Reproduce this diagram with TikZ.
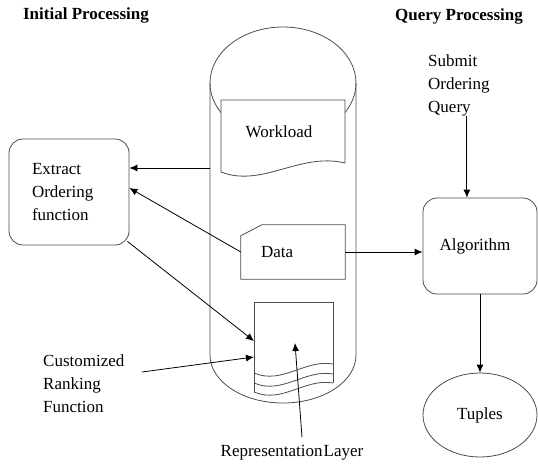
\documentclass[tikz,border=0pt]{standalone}
\usepackage{fontspec}
\setmainfont{Liberation Serif}
\usetikzlibrary{arrows.meta,shapes.geometric}

\tikzset{
  shape line/.style={draw=black!70, line width=0.8pt},
  link/.style={draw=black, line width=0.8pt, -{Latex[length=8pt,width=7pt]}},
  label text/.style={font=\fontsize{17}{23}\selectfont, align=left, inner sep=0pt},
  title text/.style={font=\fontsize{17}{23}\selectfont\bfseries, inner sep=0pt},
  proc box/.style={shape line, rounded corners=14pt, font=\fontsize{17}{23}\selectfont, align=left},
}

\begin{document}
\begin{tikzpicture}[x=1pt,y=-1pt]
  \useasboundingbox (0,0) rectangle (538,466);

  % headings
  \node[title text] (initial) at (86,15) {Initial Processing};
  \node[title text] (query) at (459,16) {Query Processing};

  % the store (cylinder)
  \draw[shape line] (210,83) -- (210,355) arc[start angle=180, end angle=360, x radius=73pt, y radius=48pt] -- (356,83);
  \draw[shape line] (283,83) ellipse[x radius=73pt, y radius=56pt];
  \coordinate (cylside) at (210,168);

  % workload document
  \draw[shape line, fill=white] (221,100) -- (345,100) -- (345,163)
    .. controls (300,152) and (262,188) .. (221,172) -- cycle;
  \node[label text] (workload) at (279,132) {Workload};

  % data card
  \node[label text, minimum height=54pt, text width=64pt, inner xsep=20pt] (data) at (293,252) {Data};
  \draw[shape line] ([yshift=-11pt]data.north west) -- ([xshift=21pt]data.north west)
    -- (data.north east) -- (data.south east) -- (data.south west) -- cycle;

  % representation layer (multi document)
  \draw[shape line] (254,392) -- (254,302) -- (333,302) -- (333,383);
  \foreach \y in {373,383,392}
    \draw[shape line] (254,\y) .. controls (282,\y+12) and (305,\y-14) .. (333,\y-9);
  \coordinate (repin) at (254,341);
  \coordinate (repin2) at (254,357);
  \coordinate (repmark) at (295,343);

  % left side
  \node[proc box, minimum height=106pt, text width=74pt, inner xsep=23pt] (extract) at (69,192)
    {Extract\\Ordering\\function};
  \node[label text, anchor=west] (custom) at (43,384) {Customized\\Ranking\\Function};
  \coordinate (customtail) at (142,372);
  \node[label text] (replabel) at (292,453) {Representation\hspace{1pt}Layer};

  % right side
  \node[label text, anchor=west] (submit) at (428,85) {Submit\\Ordering\\Query};
  \coordinate (qtail) at ([xshift=8pt]submit.south);
  \node[proc box, minimum height=96pt, text width=81pt, inner xsep=16.5pt] (algo) at (480,246) {Algorithm};
  \node[shape line, ellipse, minimum width=114pt, minimum height=84pt, inner sep=0pt,
    font=\fontsize{17}{23}\selectfont] (tuples) at (480,415) {Tuples};

  % connectors
  \draw[link] (cylside) -- (cylside -| extract.east);
  \draw[link] (data.west) -- ([yshift=4pt]extract.east);
  \draw[link] ([shift={(-2pt,4pt)}]extract.south east) -- (repin);
  \draw[link] (customtail) -- (repin2);
  \draw[link] ([shift={(10pt,8pt)}]replabel.north) -- (repmark);
  \draw[link] (data.east) -- (data.east -| algo.west);
  \draw[link] (qtail) -- (qtail |- algo.north);
  \draw[link] (algo.south) -- (tuples.north);
\end{tikzpicture}
\end{document}
